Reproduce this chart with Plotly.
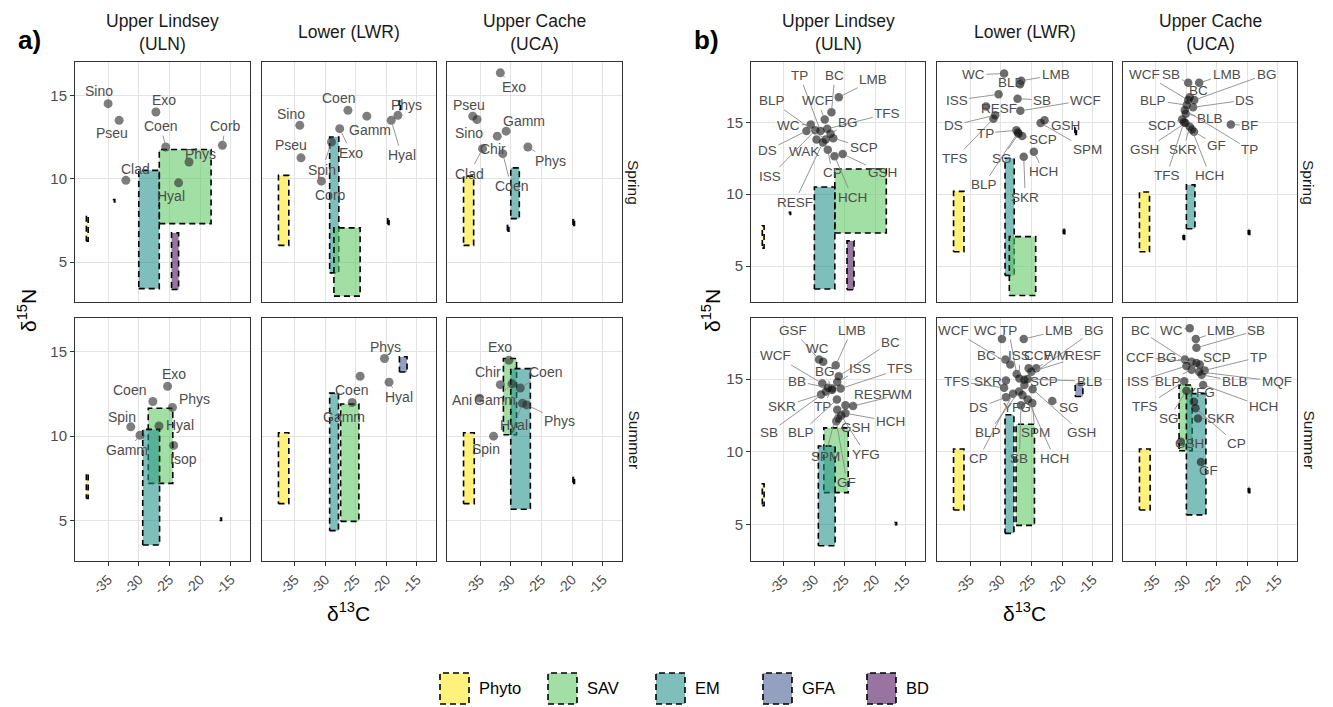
import plotly.graph_objects as go

W, H = 1333, 707
FONT = "Liberation Sans, Arial, sans-serif"

sites = ["ULN", "LWR", "UCA"]
site_titles = ["Upper Lindsey<br>(ULN)", "Lower (LWR)", "Upper Cache<br>(UCA)"]
seasons = ["Spring", "Summer"]
source_names = ["Phyto", "SAV", "EM", "GFA", "BD"]
source_fill = ["rgba(253,231,37,0.6)", "rgba(93,200,99,0.58)", "rgba(33,144,140,0.58)",
               "rgba(59,82,139,0.55)", "rgba(68,1,84,0.55)"]
x_ticks = [-35, -30, -25, -20, -15]
x_ticktext = ["-35", "-30", "-25", "-20", "-15"]
y_ticks = [5, 10, 15]

# Source boxes: (source, d13C min, d13C max, d15N min, d15N max)
src_ULN_Spring = [("Phyto", -38.55, -38.25, 6.25, 7.8), ("GFA", -34.1, -33.9, 8.6, 8.75),
                  ("SAV", -26.65, -18.2, 7.3, 11.75), ("EM", -30.0, -26.65, 3.4, 10.5),
                  ("BD", -24.65, -23.5, 3.35, 6.75)]
src_ULN_Summer = [("Phyto", -38.55, -38.25, 6.3, 7.8), ("SAV", -28.45, -24.45, 7.2, 11.65),
                  ("EM", -29.35, -26.6, 3.55, 10.4), ("GFA", -16.8, -16.5, 5.0, 5.15)]
src_LWR_Spring = [("Phyto", -37.7, -36.0, 6.0, 10.2), ("EM", -29.3, -27.8, 4.35, 12.5),
                  ("SAV", -28.6, -24.3, 2.95, 7.05), ("GFA", -17.9, -17.65, 14.15, 14.65),
                  ("BD", -19.8, -19.55, 7.25, 7.65)]
src_LWR_Summer = [("Phyto", -37.7, -36.0, 6.0, 10.2), ("EM", -29.3, -27.85, 4.4, 12.55),
                  ("SAV", -27.5, -24.5, 4.95, 11.9), ("GFA", -17.85, -16.6, 13.8, 14.7)]
src_UCA_Spring = [("Phyto", -37.7, -36.05, 6.0, 10.15), ("EM", -30.0, -28.6, 7.6, 10.65),
                  ("GFA", -30.55, -30.3, 6.85, 7.25), ("BD", -19.85, -19.6, 7.2, 7.6)]
src_UCA_Summer = [("Phyto", -37.7, -35.95, 6.0, 10.2), ("SAV", -31.2, -29.05, 10.08, 14.6),
                  ("EM", -30.0, -26.8, 5.67, 14.0), ("BD", -19.85, -19.6, 7.2, 7.6)]

# Consumers, panel a (taxon, d13C, d15N) and label positions (d13C, d15N)
cons_a_ULN_Spring = [("Sino", -35.0, 14.5), ("Pseu", -33.2, 13.5), ("Exo", -27.2, 14.0),
                     ("Coen", -25.6, 11.9), ("Corb", -16.35, 12.0), ("Phys", -21.8, 11.0),
                     ("Clad", -32.1, 9.9), ("Hyal", -23.5, 9.75)]
lab_a_ULN_Spring = [(-36.5, 15.25), (-34.4, 12.75), (-25.9, 14.75), (-26.4, 13.15),
                    (-15.9, 13.15), (-20.0, 11.5), (-30.6, 10.6), (-24.8, 8.95)]
cons_a_LWR_Spring = [("Sino", -34.2, 13.2), ("Pseu", -34.0, 11.25), ("Coen", -26.3, 14.1),
                     ("Gamm", -23.2, 13.75), ("Phys", -18.1, 13.8), ("Hyal", -19.2, 13.5),
                     ("Exo", -27.65, 13.0), ("Spin", -29.0, 12.2), ("Corp", -30.65, 9.85)]
lab_a_LWR_Spring = [(-35.7, 13.9), (-35.7, 12.0), (-27.9, 14.85), (-22.65, 12.95),
                    (-16.7, 14.45), (-17.5, 11.4), (-25.75, 11.55), (-30.5, 10.55), (-29.2, 9.05)]
cons_a_UCA_Spring = [("Exo", -31.7, 16.35), ("Pseu", -36.2, 13.75), ("Sino", -35.5, 13.55),
                     ("Gamm", -30.75, 12.85), ("Chir", -32.2, 12.55), ("Clad", -34.6, 11.8),
                     ("Coen", -31.3, 11.5), ("Phys", -27.2, 11.9)]
lab_a_UCA_Spring = [(-29.4, 15.5), (-36.75, 14.45), (-36.85, 12.75), (-27.8, 13.45),
                    (-32.9, 11.8), (-36.75, 10.3), (-29.95, 9.55), (-23.5, 11.05)]
cons_a_ULN_Summer = [("Exo", -25.3, 12.95), ("Coen", -27.7, 12.05), ("Phys", -24.5, 11.7),
                     ("Spin", -31.3, 10.55), ("Hyal", -26.7, 10.6), ("Gamm", -29.8, 10.05),
                     ("Isop", -24.3, 9.45)]
lab_a_ULN_Summer = [(-24.2, 13.7), (-31.55, 12.75), (-20.85, 12.2), (-32.7, 11.15),
                    (-23.2, 10.65), (-31.85, 9.15), (-22.75, 8.65)]
cons_a_LWR_Summer = [("Phys", -20.3, 14.6), ("Hyal", -19.55, 13.2), ("Coen", -24.3, 13.55),
                     ("Gamm", -25.6, 12.0)]
lab_a_LWR_Summer = [(-20.2, 15.3), (-18.0, 12.3), (-25.75, 12.75), (-27.0, 11.15)]
cons_a_UCA_Summer = [("Exo", -30.3, 14.5), ("Chir", -31.7, 13.05), ("Coen", -28.45, 12.85),
                     ("Ani", -35.1, 12.25), ("Gamm", -29.8, 13.1), ("Phys", -27.4, 11.85),
                     ("Hyal", -28.1, 11.95), ("Spin", -32.8, 10.0)]
lab_a_UCA_Summer = [(-31.7, 15.3), (-33.75, 13.8), (-24.25, 13.8), (-37.9, 12.15),
                    (-32.65, 12.15), (-22.0, 10.9), (-29.4, 10.65), (-34.0, 9.25)]

# Consumers, panel b (species code, d13C, d15N) and label positions
cons_b_ULN_Spring = [("LMB", -26.0, 16.75), ("BC", -27.2, 15.7), ("TP", -29.0, 14.4),
                     ("BLP", -28.15, 13.8), ("WCF", -28.3, 15.2), ("TFS", -27.9, 14.55),
                     ("BG", -27.35, 14.2), ("WC", -30.6, 14.85), ("SCP", -26.9, 13.9),
                     ("DS", -31.3, 14.4), ("WAK", -29.65, 13.8), ("ISS", -29.85, 14.45),
                     ("CP", -27.8, 13.1), ("GSH", -25.35, 12.8), ("HCH", -26.7, 12.65),
                     ("RESF", -28.6, 13.6)]
lab_b_ULN_Spring = [(-20.35, 17.95), (-26.65, 18.25), (-32.4, 18.25), (-37.0, 16.5),
                    (-29.5, 16.5), (-18.05, 15.6), (-24.45, 15.0), (-34.2, 14.8),
                    (-21.9, 13.25), (-37.7, 13.05), (-31.7, 12.95), (-37.2, 11.25),
                    (-27.1, 11.5), (-18.9, 11.5), (-23.8, 9.8), (-33.25, 9.45)]
cons_b_LWR_Spring = [("WC", -29.45, 18.4), ("BLB", -26.85, 17.65), ("LMB", -26.65, 17.9),
                     ("ISS", -30.35, 16.95), ("SB", -27.25, 16.65), ("WCF", -26.8, 15.8),
                     ("RESF", -32.4, 16.1), ("DS", -30.9, 15.5), ("TFS", -31.2, 15.25),
                     ("GSH", -22.85, 15.15), ("SPM", -23.5, 14.95), ("TP", -27.45, 14.45),
                     ("SCP", -26.5, 14.05), ("SG", -27.1, 14.2), ("HCH", -24.6, 12.95),
                     ("SKR", -26.25, 12.6), ("BLP", -27.2, 14.3)]
lab_b_LWR_Spring = [(-34.45, 18.3), (-28.3, 17.8), (-21.05, 18.3), (-37.2, 16.55),
                    (-23.25, 16.55), (-16.15, 16.55), (-30.35, 15.95), (-37.7, 14.8),
                    (-37.4, 12.5), (-19.45, 14.8), (-15.9, 13.1), (-32.55, 14.25),
                    (-23.1, 13.8), (-29.8, 12.5), (-23.0, 11.55), (-26.0, 9.8), (-32.8, 10.65)]
cons_b_UCA_Spring = [("SB", -29.7, 17.75), ("WCF", -29.7, 16.55), ("LMB", -27.9, 17.75),
                     ("BG", -28.7, 16.55), ("BC", -29.45, 16.75), ("BLP", -29.95, 16.2),
                     ("DS", -28.9, 16.05), ("TP", -30.25, 15.85), ("BLB", -30.1, 15.6),
                     ("SCP", -30.7, 15.2), ("GSH", -30.15, 14.95), ("SKR", -29.45, 14.7),
                     ("GF", -28.75, 14.35), ("TFS", -30.4, 15.0), ("HCH", -29.1, 14.5),
                     ("BF", -22.7, 14.85)]
lab_b_UCA_Spring = [(-32.45, 18.35), (-36.8, 18.35), (-23.4, 18.35), (-16.85, 18.35),
                    (-28.05, 17.2), (-35.45, 16.55), (-20.4, 16.55), (-19.6, 13.1),
                    (-26.15, 15.25), (-34.05, 14.8), (-36.8, 13.1), (-30.5, 13.1),
                    (-25.05, 13.4), (-33.25, 11.3), (-26.15, 11.3), (-19.6, 14.8)]
cons_b_ULN_Summer = [("GSF", -29.25, 16.35), ("WC", -28.55, 16.2), ("LMB", -26.5, 15.95),
                     ("BC", -26.0, 15.2), ("WCF", -28.7, 14.7), ("ISS", -26.25, 14.8),
                     ("TFS", -25.7, 14.35), ("BG", -27.1, 14.25), ("BB", -27.75, 14.4),
                     ("RESF", -24.9, 13.2), ("WM", -23.65, 13.15), ("SKR", -28.9, 13.95),
                     ("TP", -27.1, 14.35), ("HCH", -24.9, 12.65), ("SB", -28.1, 14.15),
                     ("BLP", -26.3, 13.6), ("GSH", -26.1, 12.3), ("YFG", -25.6, 12.5),
                     ("SPM", -26.25, 12.9), ("GF", -26.4, 12.1)]
lab_b_ULN_Summer = [(-33.45, 18.35), (-29.55, 17.1), (-23.9, 18.35), (-17.5, 17.55),
                    (-36.35, 16.6), (-22.45, 15.7), (-15.9, 15.7), (-28.2, 15.5),
                    (-32.8, 14.85), (-20.5, 13.95), (-15.9, 13.95), (-35.25, 13.1),
                    (-28.6, 13.1), (-17.5, 12.1), (-37.45, 11.3), (-32.25, 11.3),
                    (-23.25, 11.7), (-21.6, 9.85), (-28.2, 9.65), (-24.65, 7.9)]
cons_b_LWR_Summer = [("WC", -29.8, 17.75), ("LMB", -26.25, 17.75), ("WCF", -28.45, 16.0),
                     ("TP", -27.4, 15.35), ("BG", -26.15, 14.95), ("BC", -29.25, 16.35),
                     ("ISS", -26.95, 15.05), ("CCF", -25.45, 15.75), ("WM", -24.2, 15.75),
                     ("RESF", -25.0, 15.5), ("TFS", -29.45, 14.4), ("SKR", -29.15, 14.9),
                     ("SCP", -26.15, 14.6), ("BLB", -25.6, 15.0), ("DS", -29.15, 13.75),
                     ("YFG", -26.45, 13.9), ("SG", -21.6, 13.5), ("BLP", -27.0, 14.15),
                     ("SPM", -24.85, 13.35), ("GSH", -24.8, 14.3), ("CP", -28.0, 14.0),
                     ("SB", -26.7, 13.2), ("HCH", -25.6, 13.6)]
lab_b_LWR_Summer = [(-32.55, 18.35), (-20.5, 18.35), (-37.7, 18.35), (-28.7, 18.35),
                    (-14.8, 18.35), (-32.3, 16.6), (-26.95, 16.6), (-23.95, 16.6),
                    (-20.95, 16.6), (-16.6, 16.6), (-37.2, 14.85), (-32.15, 14.85),
                    (-22.9, 14.85), (-15.5, 14.85), (-33.6, 13.05), (-27.35, 13.05),
                    (-18.9, 13.05), (-32.05, 11.3), (-24.4, 11.3), (-16.75, 11.3),
                    (-33.6, 9.55), (-26.95, 9.55), (-21.2, 9.55)]
cons_b_UCA_Summer = [("WC", -29.45, 18.5), ("LMB", -28.45, 17.75), ("SB", -28.35, 17.15),
                     ("BC", -30.25, 16.35), ("CCF", -29.15, 16.2), ("BG", -28.35, 16.1),
                     ("SCP", -27.8, 16.0), ("TP", -27.0, 15.6), ("ISS", -30.0, 15.9),
                     ("BLP", -29.15, 15.65), ("BLB", -27.5, 15.3), ("MQF", -27.9, 15.5),
                     ("TFS", -30.35, 14.85), ("HCH", -27.25, 14.6), ("SG", -30.0, 14.2),
                     ("SKR", -28.1, 12.3), ("YFG", -28.75, 13.45), ("GSH", -30.9, 10.7),
                     ("CP", -28.5, 13.0), ("GF", -27.6, 9.3)]
lab_b_UCA_Summer = [(-32.45, 18.35), (-24.25, 18.35), (-18.5, 18.35), (-37.6, 18.35),
                    (-37.6, 16.5), (-33.25, 16.5), (-25.05, 16.5), (-18.2, 16.5),
                    (-37.9, 14.85), (-33.0, 14.85), (-22.05, 14.85), (-15.2, 14.85),
                    (-36.8, 13.1), (-17.4, 13.1), (-32.85, 12.3), (-24.25, 12.3),
                    (-27.6, 14.05), (-29.45, 10.55), (-21.8, 10.55), (-26.4, 8.75)]

sources_by_facet = {
    ("ULN", "Spring"): src_ULN_Spring, ("ULN", "Summer"): src_ULN_Summer,
    ("LWR", "Spring"): src_LWR_Spring, ("LWR", "Summer"): src_LWR_Summer,
    ("UCA", "Spring"): src_UCA_Spring, ("UCA", "Summer"): src_UCA_Summer,
}
consumers = {
    ("a", "ULN", "Spring"): (cons_a_ULN_Spring, lab_a_ULN_Spring),
    ("a", "LWR", "Spring"): (cons_a_LWR_Spring, lab_a_LWR_Spring),
    ("a", "UCA", "Spring"): (cons_a_UCA_Spring, lab_a_UCA_Spring),
    ("a", "ULN", "Summer"): (cons_a_ULN_Summer, lab_a_ULN_Summer),
    ("a", "LWR", "Summer"): (cons_a_LWR_Summer, lab_a_LWR_Summer),
    ("a", "UCA", "Summer"): (cons_a_UCA_Summer, lab_a_UCA_Summer),
    ("b", "ULN", "Spring"): (cons_b_ULN_Spring, lab_b_ULN_Spring),
    ("b", "LWR", "Spring"): (cons_b_LWR_Spring, lab_b_LWR_Spring),
    ("b", "UCA", "Spring"): (cons_b_UCA_Spring, lab_b_UCA_Spring),
    ("b", "ULN", "Summer"): (cons_b_ULN_Summer, lab_b_ULN_Summer),
    ("b", "LWR", "Summer"): (cons_b_LWR_Summer, lab_b_LWR_Summer),
    ("b", "UCA", "Summer"): (cons_b_UCA_Summer, lab_b_UCA_Summer),
}

# ---- layout geometry (pixels) ----
panels = ["a", "b"]
panel_cols = {"a": [(75, 250), (262, 436), (447, 622)],
              "b": [(751, 925), (937, 1112), (1123, 1297)]}
rows_px = [(62, 302), (318, 561)]
x_range = [-40.4, -11.85]
y_ranges = {"a": [2.6, 17.0], "b": [2.5, 19.2]}
point_color = {"a": "rgba(40,40,40,0.6)", "b": "rgba(20,20,20,0.62)"}
point_size = {"a": 9, "b": 8.5}
label_size = {"a": 14, "b": 13.5}
ytitle_x = {"a": 27, "b": 711}

fig = go.Figure()
layout = {}
annotations = []
fill_of = dict(zip(source_names, source_fill))

for p_i, panel in enumerate(panels):
    for r, season in enumerate(seasons):
        for c, site in enumerate(sites):
            idx = p_i * 6 + r * 3 + c + 1
            xa, ya = "x%d" % idx, "y%d" % idx
            x0p, x1p = panel_cols[panel][c]
            t_p, b_p = rows_px[r]
            yr = y_ranges[panel]
            layout["xaxis%d" % idx] = dict(
                domain=[x0p / W, x1p / W], range=x_range, anchor=ya,
                tickvals=x_ticks, ticktext=x_ticktext, showgrid=True, gridcolor="#e3e3e3",
                gridwidth=1, zeroline=False, showline=True, mirror=True, linecolor="#333333",
                linewidth=1, ticks="outside" if r == 1 else "", ticklen=4, tickcolor="#333333",
                showticklabels=(r == 1), tickangle=-45,
                tickfont=dict(family=FONT, size=14, color="#4d4d4d"), fixedrange=True)
            layout["yaxis%d" % idx] = dict(
                domain=[1 - b_p / H, 1 - t_p / H], range=yr, anchor=xa,
                tickvals=y_ticks, showgrid=True, gridcolor="#e3e3e3", gridwidth=1,
                zeroline=False, showline=True, mirror=True, linecolor="#333333", linewidth=1,
                ticks="outside" if c == 0 else "", ticklen=4, tickcolor="#333333",
                showticklabels=(c == 0), tickfont=dict(family=FONT, size=15, color="#4d4d4d"),
                fixedrange=True)
            # source boxes
            for (src, bx0, bx1, by0, by1) in sources_by_facet[(site, season)]:
                fig.add_trace(go.Scatter(
                    x=[bx0, bx1, bx1, bx0, bx0], y=[by0, by0, by1, by1, by0],
                    mode="lines", fill="toself", fillcolor=fill_of[src],
                    line=dict(color="black", width=1.6, dash="6px,4px"),
                    xaxis=xa, yaxis=ya, showlegend=False, hoverinfo="skip"))
            # consumers
            cons, labs = consumers[(panel, site, season)]
            fig.add_trace(go.Scatter(
                x=[cc[1] for cc in cons], y=[cc[2] for cc in cons], mode="markers",
                marker=dict(size=point_size[panel], color=point_color[panel]),
                xaxis=xa, yaxis=ya, showlegend=False, hoverinfo="skip"))
            xs = (x1p - x0p) / (x_range[1] - x_range[0])
            ys = (b_p - t_p) / (yr[1] - yr[0])
            fs = label_size[panel]
            for (name, px_, py_), (lx, ly) in zip(cons, labs):
                dxp = (px_ - lx) * xs
                dyp = (py_ - ly) * ys
                hw = len(name) * 3.9 + 1
                hh = 7
                gap = max(abs(dxp) - hw, abs(dyp) - hh)
                if gap > 7:
                    annotations.append(dict(
                        x=px_, y=py_, xref=xa, yref=ya, ax=lx, ay=ly, axref=xa, ayref=ya,
                        text=name, showarrow=True, arrowhead=0, arrowwidth=0.9,
                        arrowcolor="#8a8a8a", standoff=4,
                        font=dict(family=FONT, size=fs, color="#4d4d4d")))
                else:
                    annotations.append(dict(
                        x=lx, y=ly, xref=xa, yref=ya, text=name, showarrow=False,
                        xanchor="center", yanchor="middle",
                        font=dict(family=FONT, size=fs, color="#4d4d4d")))


def paper_text(px, py, text, size, color="#1a1a1a", angle=0, xanchor="center"):
    annotations.append(dict(x=px / W, y=1 - py / H, xref="paper", yref="paper",
                            xanchor=xanchor, yanchor="middle", text=text, showarrow=False,
                            textangle=angle, font=dict(family=FONT, size=size, color=color)))


# strip labels, titles, panel tags
for panel in panels:
    cols = panel_cols[panel]
    for c, title in enumerate(site_titles):
        cx = (cols[c][0] + cols[c][1]) / 2
        paper_text(cx, 32, title, 17.5)
    rx = cols[2][1] + 12
    for r, season in enumerate(seasons):
        cy = (rows_px[r][0] + rows_px[r][1]) / 2
        paper_text(rx, cy, season, 15.5, angle=90)
    paper_text(ytitle_x[panel], 311, "δ<sup>15</sup>N", 21, color="black", angle=-90)
    mx = (cols[0][0] + cols[2][1]) / 2
    paper_text(mx, 612, "δ<sup>13</sup>C", 21, color="black")

paper_text(30, 40, "<b>a)</b>", 26, color="black")
paper_text(706, 40, "<b>b)</b>", 26, color="black")

# legend (manual)
shapes = []
leg_x = [440, 548, 656, 763, 867]
for i, (nm, col) in enumerate(zip(source_names, source_fill)):
    kx0 = leg_x[i]
    shapes.append(dict(type="rect", xref="paper", yref="paper",
                       x0=kx0 / W, x1=(kx0 + 29) / W, y0=1 - 704 / H, y1=1 - 673 / H,
                       fillcolor=col, line=dict(color="black", width=1.6, dash="6px,4px")))
    paper_text(kx0 + 37, 688, nm, 16.5, color="black", xanchor="left")

fig.update_layout(width=W, height=H, margin=dict(l=0, r=0, t=0, b=0),
                  paper_bgcolor="white", plot_bgcolor="white", showlegend=False,
                  annotations=annotations, shapes=shapes, **layout)
fig.write_html("out.html")
